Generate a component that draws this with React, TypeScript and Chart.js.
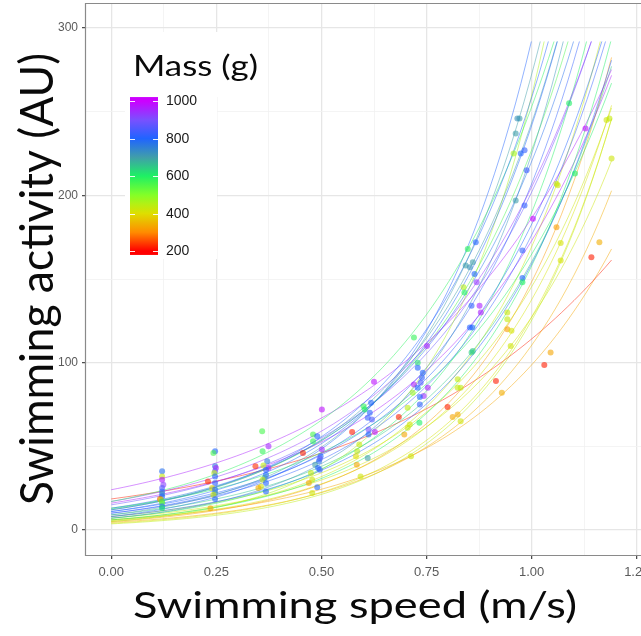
import React, { useEffect, useRef } from "react";
import { Chart, registerables } from "chart.js";

Chart.register(...registerables);

// ---------- axis ticks ----------
const xMajorTicks = [0, 0.25, 0.5, 0.75, 1.0, 1.25];
const xMinorTicks = [0.125, 0.375, 0.625, 0.875, 1.125];
const yMajorTicks = [0, 100, 200, 300];
const yMinorTicks = [50, 150, 250];
const legendTicks = [200, 400, 600, 800, 1000];

// ---------- observations (speed m/s, activity AU, mass g) ----------
const pointSpeed = [
  // ~0.12
  0.121, 0.121, 0.121, 0.124, 0.121, 0.121, 0.121, 0.121, 0.116, 0.118, 0.121, 0.121, 0.121, 0.121,
  // ~0.24
  0.247, 0.243, 0.247, 0.249, 0.247, 0.245, 0.247, 0.23, 0.247, 0.24, 0.247, 0.247, 0.243, 0.247, 0.236,
  // ~0.36
  0.359, 0.374, 0.36, 0.371, 0.362, 0.343, 0.374, 0.368, 0.368, 0.365, 0.36, 0.368, 0.356, 0.35, 0.368,
  // ~0.48
  0.501, 0.48, 0.49, 0.48, 0.501, 0.456, 0.498, 0.496, 0.494, 0.485, 0.492, 0.496, 0.475, 0.478, 0.47, 0.49, 0.478,
  // ~0.60
  0.625, 0.618, 0.6, 0.603, 0.615, 0.61, 0.62, 0.612, 0.573, 0.627, 0.612, 0.59, 0.585, 0.582, 0.61, 0.584, 0.593,
  // ~0.72
  0.72, 0.751, 0.729, 0.729, 0.741, 0.739, 0.736, 0.72, 0.729, 0.753, 0.717, 0.743, 0.734, 0.734, 0.705, 0.684,
  0.733, 0.71, 0.705, 0.697, 0.713,
  // ~0.84
  0.867, 0.848, 0.86, 0.843, 0.853, 0.864, 0.869, 0.838, 0.84, 0.857, 0.876, 0.879, 0.853, 0.859, 0.86, 0.857,
  0.824, 0.824, 0.831, 0.8, 0.824, 0.812, 0.831,
  // ~0.95
  0.971, 0.966, 0.962, 0.957, 0.974, 0.983, 0.988, 0.962, 0.983, 0.978, 0.978, 0.978, 0.942, 0.942, 0.942, 0.952,
  0.95, 0.915, 0.929,
  // >= 1.0
  1.003, 1.059, 1.062, 1.059, 1.069, 1.069, 1.045, 1.03, 1.089, 1.103, 1.128, 1.178, 1.185, 1.19, 1.161, 1.142,
];
const pointActivity = [
  35, 32, 30, 27, 25, 23, 21.5, 20, 18.5, 18, 17, 16, 14, 13,
  47, 46, 38, 37, 35, 34, 32, 29, 28, 25, 24, 22, 21, 18.5, 13,
  59, 50, 47, 41, 38.5, 38, 37, 36, 33, 31, 30, 28, 26, 25, 23,
  72, 57, 56, 53, 48, 46, 44, 42.5, 41, 39, 37, 36, 34, 30, 28, 25.5, 22,
  88.5, 76, 74, 72, 70, 67, 66, 60, 58.5, 58.5, 57, 51, 47, 44, 43, 39, 32,
  115, 110, 100, 97, 94, 91, 88, 87, 85, 85, 82, 80, 79.5, 75, 73, 67.5, 64, 63, 61, 57, 44,
  172, 168, 160, 158, 157, 153, 148, 145, 142, 134, 134, 130, 121, 121, 107, 106, 90, 85, 85, 73.5, 69, 67.5, 65,
  246, 246, 237, 225, 225, 227, 215, 197, 194, 167, 150.6, 148, 130, 126, 120, 119, 110, 89, 82,
  186, 207, 206, 181, 171.5, 161, 106, 98.6, 255, 213, 240, 245, 246, 222, 172, 163,
];
const pointMass = [
  780, 430, 970, 920, 860, 820, 720, 800, 250, 420, 640, 520, 790, 600,
  800, 560, 760, 960, 880, 450, 800, 230, 820, 380, 800, 700, 420, 800, 330,
  560, 950, 580, 760, 440, 230, 960, 820, 800, 700, 430, 800, 410, 330, 800,
  980, 560, 800, 580, 950, 220, 800, 880, 780, 700, 800, 820, 430, 420, 330, 790, 420,
  980, 800, 580, 600, 800, 820, 850, 900, 220, 970, 800, 430, 440, 400, 700, 330, 420,
  580, 960, 620, 800, 800, 820, 850, 960, 800, 960, 470, 940, 800, 820, 440, 220, 600, 420, 420, 330, 420,
  800, 590, 700, 700, 720, 800, 930, 450, 600, 820, 960, 960, 800, 800, 650, 640, 430, 430, 440, 220, 330, 330, 420,
  700, 720, 700, 460, 800, 820, 830, 700, 820, 820, 800, 600, 420, 430, 320, 410, 420, 220, 340,
  990, 430, 420, 320, 410, 410, 330, 220, 600, 600, 980, 420, 430, 420, 340, 220,
];

// ---------- fitted curves: activity = intercept * exp(rate * speed) ----------
const curveMass = [
  700, 800, 780, 720, 820, 800, 600, 700, 800, 590, 930, 460, 820, 960, 960, 800,
  650, 600, 600, 420, 430, 420, 320, 410, 410, 340, 220, 330, 800, 440, 880, 560,
];
const curveIntercept = [
  9, 11, 13, 7, 10, 8, 6, 12, 12, 17, 17, 5, 10, 24, 16, 11,
  9, 7, 13, 8, 6, 7, 5, 5.5, 4, 4.5, 18.5, 6, 8, 3.6, 15, 12.5,
];
const curveRate = [
  3.41, 3.09, 2.83, 3.47, 2.87, 2.99, 3.27, 3.01, 3.07, 2.7, 2.49, 3.95, 3.03, 2.05, 2.38, 2.81,
  2.88, 3.3, 2.54, 2.9, 3.34, 2.9, 3.39, 3.22, 3.46, 3.2, 1.82, 2.8, 3.6, 3.55, 2.6, 2.9,
];
const curveSpeedMax = 1.19;
const curveActivityMax = 292;

// ---------- colour scale ----------
const massStops = [200, 250, 300, 400, 450, 500, 600, 700, 800, 900, 1000];
const colourStops: number[][] = [
  [255, 0, 0],
  [255, 70, 0],
  [255, 140, 0],
  [222, 222, 0],
  [180, 240, 20],
  [130, 255, 40],
  [30, 240, 100],
  [64, 158, 170],
  [32, 100, 255],
  [122, 80, 255],
  [204, 0, 255],
];

function massRGB(m: number): number[] {
  if (m <= massStops[0]) return colourStops[0];
  for (let i = 1; i < massStops.length; i++) {
    if (m <= massStops[i]) {
      const t = (m - massStops[i - 1]) / (massStops[i] - massStops[i - 1]);
      const a = colourStops[i - 1];
      const b = colourStops[i];
      return [0, 1, 2].map((k) => Math.round(a[k] + (b[k] - a[k]) * t));
    }
  }
  return colourStops[colourStops.length - 1];
}
function massColour(m: number, alpha = 1): string {
  const c = massRGB(m);
  return `rgba(${c[0]},${c[1]},${c[2]},${alpha})`;
}

// ---------- helpers ----------
const tickFont = "'Liberation Sans', Arial, sans-serif";
const titleFont = "Lato, 'Open Sans', sans-serif";

function drawFitted(
  ctx: CanvasRenderingContext2D,
  text: string,
  font: string,
  cx: number,
  baseline: number,
  width: number,
  rotate = 0
) {
  ctx.save();
  ctx.font = font;
  const w = ctx.measureText(text).width;
  ctx.translate(cx, baseline);
  if (rotate) ctx.rotate(rotate);
  ctx.scale(width / w, 1);
  ctx.textAlign = "center";
  ctx.textBaseline = "alphabetic";
  ctx.fillStyle = "#0a0a0a";
  ctx.fillText(text, 0, 0);
  ctx.restore();
}

const decorPlugin = {
  id: "decor",
  beforeDatasetsDraw(chart: any) {
    const ctx: CanvasRenderingContext2D = chart.ctx;
    ctx.save();
    ctx.fillStyle = "#ffffff";
    ctx.fillRect(116, 32, 152, 65);
    ctx.fillRect(125, 96, 92, 163);
    ctx.restore();
  },
  afterDatasetsDraw(chart: any) {
    const ctx: CanvasRenderingContext2D = chart.ctx;
    const a = chart.chartArea;
    // panel border (left, top, bottom; right edge falls at the canvas edge)
    ctx.save();
    ctx.strokeStyle = "#8a8a8a";
    ctx.lineWidth = 1.2;
    ctx.beginPath();
    ctx.moveTo(a.right + 2, a.top + 0.5);
    ctx.lineTo(a.left - 0.5, a.top + 0.5);
    ctx.lineTo(a.left - 0.5, a.bottom + 0.5);
    ctx.lineTo(a.right + 2, a.bottom + 0.5);
    ctx.stroke();
    ctx.restore();

    // colour bar legend
    const barL = 130;
    const barR = 158;
    const yOf = (v: number) => 251 - ((v - 200) * 150) / 800;
    const top = yOf(1021);
    const bot = yOf(179);
    ctx.save();
    const g = ctx.createLinearGradient(0, top, 0, bot);
    for (let i = massStops.length - 1; i >= 0; i--) {
      const off = (yOf(massStops[i]) - top) / (bot - top);
      g.addColorStop(Math.min(1, Math.max(0, off)), massColour(massStops[i]));
    }
    ctx.fillStyle = g;
    ctx.fillRect(barL, top, barR - barL, bot - top);
    ctx.strokeStyle = "rgba(255,255,255,0.9)";
    ctx.lineWidth = 1;
    legendTicks.forEach((v) => {
      const y = Math.round(yOf(v)) + 0.5;
      ctx.beginPath();
      ctx.moveTo(barL, y);
      ctx.lineTo(barL + 5, y);
      ctx.moveTo(barR - 5, y);
      ctx.lineTo(barR, y);
      ctx.stroke();
    });
    ctx.fillStyle = "#1a1a1a";
    ctx.font = `14px ${tickFont}`;
    ctx.textAlign = "left";
    ctx.textBaseline = "middle";
    legendTicks.forEach((v) => ctx.fillText(String(v), 166, yOf(v) + 0.5));
    ctx.restore();

    drawFitted(ctx, "Mass (g)", `29px ${titleFont}`, 195.5, 76, 125);
  },
  afterDraw(chart: any) {
    const ctx: CanvasRenderingContext2D = chart.ctx;
    drawFitted(ctx, "Swimming speed (m/s)", `37px ${titleFont}`, 355, 618, 444);
    drawFitted(ctx, "Swimming activity (AU)", `46px ${titleFont}`, 53, 279, 452, -Math.PI / 2);
  },
};

export default function App() {
  const ref = useRef<HTMLCanvasElement>(null);

  useEffect(() => {
    document.body.style.margin = "0";
    const canvas = ref.current;
    if (!canvas) return;

    const curveSets = curveMass.map((m, i) => {
      const a = curveIntercept[i];
      const b = curveRate[i];
      const xEnd = Math.min(curveSpeedMax, Math.log(curveActivityMax / a) / b);
      const n = 80;
      const pts = [];
      for (let k = 0; k <= n; k++) {
        const x = (xEnd * k) / n;
        pts.push({ x, y: a * Math.exp(b * x) });
      }
      return {
        type: "scatter" as const,
        data: pts,
        showLine: true,
        borderColor: massColour(m, 0.58),
        borderWidth: 0.85,
        pointRadius: 0,
        pointHoverRadius: 0,
        order: 1,
      };
    });

    const pointSet = {
      type: "scatter" as const,
      data: pointSpeed.map((x, i) => ({ x, y: pointActivity[i] })),
      pointRadius: 3,
      pointHoverRadius: 3,
      pointBorderWidth: 0,
      pointBackgroundColor: pointMass.map((m) => massColour(m, 0.6)),
      pointBorderColor: "rgba(0,0,0,0)",
      showLine: false,
      order: 0,
    };

    const xAll = [...xMajorTicks, ...xMinorTicks].sort((p, q) => p - q);
    const yAll = [...yMajorTicks, ...yMinorTicks].sort((p, q) => p - q);

    const chart = new Chart(canvas, {
      type: "scatter",
      data: { datasets: [pointSet as any, ...(curveSets as any[])] },
      options: {
        animation: false,
        responsive: false,
        devicePixelRatio: 1,
        layout: { autoPadding: false, padding: { top: 3, left: 0, right: 0, bottom: 0 } },
        plugins: { legend: { display: false }, tooltip: { enabled: false } },
        events: [],
        scales: {
          x: {
            type: "linear",
            min: -0.06,
            max: 1.26,
            afterBuildTicks: (s: any) => {
              s.ticks = xAll.map((v) => ({ value: v }));
            },
            afterFit: (s: any) => {
              s.height = 81;
              s.paddingLeft = 0;
              s.paddingRight = 0;
            },
            ticks: {
              autoSkip: false,
              maxRotation: 0,
              padding: 6,
              color: "#5a5a5a",
              font: { family: tickFont, size: 13 },
              callback: (v: any) => (xMajorTicks.includes(Number(v)) ? Number(v).toFixed(2) : ""),
            },
            grid: {
              color: (c: any) => (xMajorTicks.includes(c.tick?.value) ? "#e6e6e6" : "#f1f1f1"),
              lineWidth: (c: any) => (xMajorTicks.includes(c.tick?.value) ? 1.3 : 0.8),
              tickLength: 4,
              tickColor: (c: any) => (xMajorTicks.includes(c.tick?.value) ? "#444" : "rgba(0,0,0,0)"),
              tickWidth: 1.2,
            },
            border: { display: false },
          },
          y: {
            type: "linear",
            min: -15,
            max: 315,
            afterBuildTicks: (s: any) => {
              s.ticks = yAll.map((v) => ({ value: v }));
            },
            afterFit: (s: any) => {
              s.width = 86;
              s.paddingTop = 0;
              s.paddingBottom = 0;
            },
            ticks: {
              autoSkip: false,
              padding: 4,
              color: "#5a5a5a",
              font: { family: tickFont, size: 12 },
              callback: (v: any) => (yMajorTicks.includes(Number(v)) ? String(v) : ""),
            },
            grid: {
              color: (c: any) => (yMajorTicks.includes(c.tick?.value) ? "#e6e6e6" : "#f1f1f1"),
              lineWidth: (c: any) => (yMajorTicks.includes(c.tick?.value) ? 1.3 : 0.8),
              tickLength: 4,
              tickColor: (c: any) => (yMajorTicks.includes(c.tick?.value) ? "#444" : "rgba(0,0,0,0)"),
              tickWidth: 1.2,
            },
            border: { display: false },
          },
        },
      },
      plugins: [decorPlugin],
    } as any);

    return () => chart.destroy();
  }, []);

  return (
    <div style={{ width: 641, height: 636 }}>
      <canvas ref={ref} width={641} height={636} style={{ display: "block" }} />
    </div>
  );
}
